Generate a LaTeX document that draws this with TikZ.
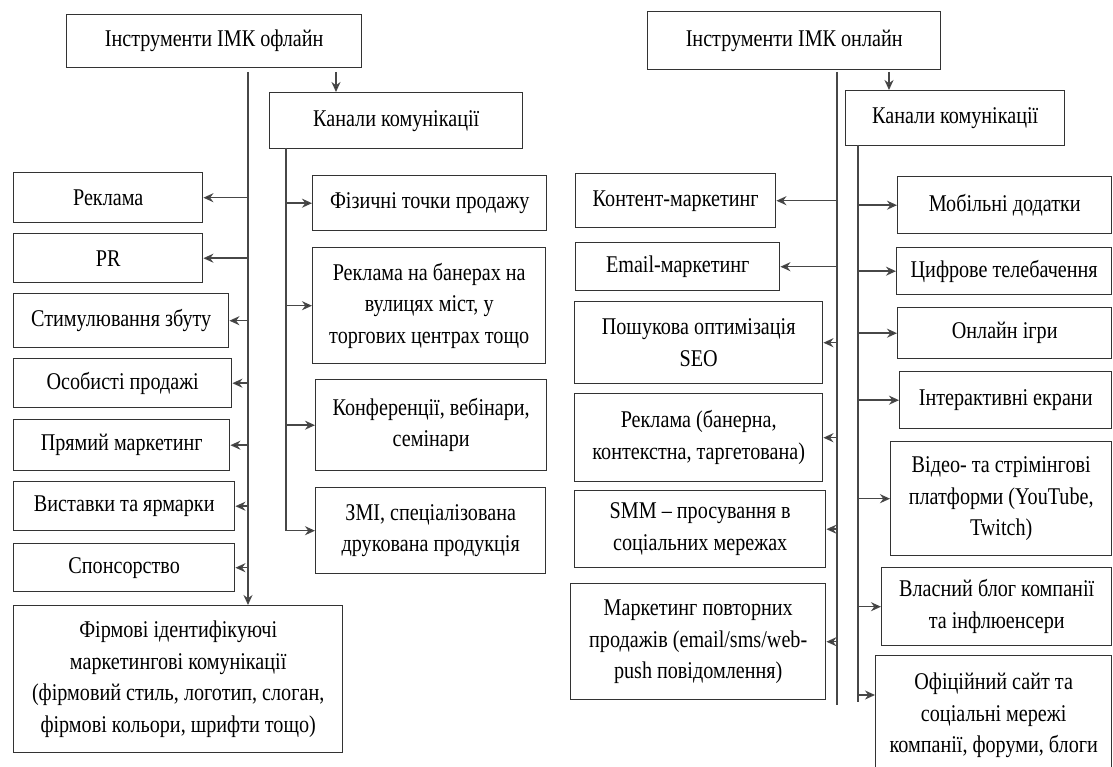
\documentclass[tikz,border=0pt]{standalone}
\usepackage{fontspec}
\setmainfont[FakeStretch = 0.84]{Liberation Serif}
\usetikzlibrary{arrows.meta}
\tikzstyle{toolbox} = [
    rectangle,
    anchor = north west,
    align = center,
    inner sep = 2pt,
    draw = black!80,
    line width = 1.4pt,
    fill = white,
    font = \fontsize{24}{31.5}\selectfont
]
\tikzstyle{trunk} = [line width = 1.5pt, draw = black!72]
\tikzstyle{branch} = [
    line width = 1.5pt,
    draw = black!72,
    arrows = {-Stealth[length = 10pt, width = 9pt, fill = black]}
]

\begin{document}
\begin{tikzpicture}[x = 1pt, y = -1pt]
    \useasboundingbox (0,0) rectangle (1113,767);

    % offline side
    \node (offline tools) [toolbox, minimum width = 295pt, minimum height = 53pt]
        at (66,14) {Інструменти ІМК офлайн};

    \node (offline channels) [toolbox, minimum width = 253pt, minimum height = 56pt]
        at (269,92) {Канали комунікації};

    \coordinate (offline split) at (336,72);
    \coordinate (offline trunk) at (248,72);
    \coordinate (offline channel trunk) at (286,148);

    \draw [branch] (offline split) -- (offline split |- offline channels.north);

    \node (advertising) [toolbox, minimum width = 189pt, minimum height = 50pt]
        at (13,172) {Реклама};
    \node (pr) [toolbox, minimum width = 189pt, minimum height = 49pt]
        at (13,233) {PR};
    \node (sales promotion) [toolbox, minimum width = 215pt, minimum height = 54pt]
        at (13,293) {Стимулювання збуту};
    \node (personal selling) [toolbox, minimum width = 218pt, minimum height = 49pt]
        at (13,358) {Особисті продажі};
    \node (direct marketing) [toolbox, minimum width = 216pt, minimum height = 51pt]
        at (13,419) {Прямий маркетинг};
    \node (exhibitions) [toolbox, minimum width = 221pt, minimum height = 49pt]
        at (13,481) {Виставки та ярмарки};
    \node (sponsorship) [toolbox, minimum width = 221pt, minimum height = 48pt]
        at (13,543) {Спонсорство};
    \node (corporate identity) [toolbox, minimum width = 329pt, minimum height = 147pt]
        at (13,605)
        {Фірмові ідентифікуючі\\маркетингові комунікації\\(фірмовий стиль, логотип, слоган,\\фірмові кольори, шрифти тощо)};

    \node (points of sale) [toolbox, minimum width = 234pt, minimum height = 55pt]
        at (312,175) {Фізичні точки продажу};
    \node (outdoor) [toolbox, minimum width = 233pt, minimum height = 116pt]
        at (312,247) {Реклама на банерах на\\вулицях міст, у\\торгових центрах тощо};
    \node (conferences) [toolbox, minimum width = 231pt, minimum height = 91pt]
        at (315,379) {Конференції, вебінари,\\семінари};
    \node (media) [toolbox, minimum width = 230pt, minimum height = 86pt]
        at (315,487) {ЗМІ, спеціалізована\\друкована продукція};

    \draw [branch] (offline trunk) -- (offline trunk |- corporate identity.north);
    \foreach \tool in {advertising, pr, sales promotion, personal selling,
        direct marketing, exhibitions, sponsorship}
        \draw [branch] (\tool.east -| offline trunk) -- (\tool.east);

    \draw [trunk] (offline channel trunk) -- (offline channel trunk |- media.west);
    \foreach \tool in {points of sale, outdoor, conferences, media}
        \draw [branch] (\tool.west -| offline channel trunk) -- (\tool.west);

    % online side
    \node (online tools) [toolbox, minimum width = 293pt, minimum height = 58pt]
        at (647,11) {Інструменти ІМК онлайн};

    \node (online channels) [toolbox, minimum width = 219pt, minimum height = 55pt]
        at (845,90) {Канали комунікації};

    \coordinate (online split) at (889,72);
    \coordinate (online trunk) at (837,72);
    \coordinate (online trunk end) at (837,705);
    \coordinate (online channel trunk) at (858,145);
    \coordinate (online channel end) at (858,702);
    \coordinate (official branch) at (858,695);

    \draw [branch] (online split) -- (online split |- online channels.north);

    \node (content marketing) [toolbox, minimum width = 200pt, minimum height = 54pt]
        at (575,173) {Контент-маркетинг};
    \node (email marketing) [toolbox, minimum width = 204pt, minimum height = 48pt]
        at (575,242) {Email-маркетинг};
    \node (seo) [toolbox, minimum width = 248pt, minimum height = 82pt]
        at (574,301) {Пошукова оптимізація\\SEO};
    \node (online ads) [toolbox, minimum width = 248pt, minimum height = 88pt]
        at (574,393) {Реклама (банерна,\\контекстна, таргетована)};
    \node (smm) [toolbox, minimum width = 251pt, minimum height = 77pt]
        at (574,490) {SMM – просування в\\соціальних мережах};
    \node (remarketing) [toolbox, minimum width = 255pt, minimum height = 116pt]
        at (570,583) {Маркетинг повторних\\продажів (email/sms/web-\\push повідомлення)};

    \node (mobile apps) [toolbox, minimum width = 214pt, minimum height = 57pt]
        at (897,176) {Мобільні додатки};
    \node (digital tv) [toolbox, minimum width = 215pt, minimum height = 47pt]
        at (896,247) {Цифрове телебачення};
    \node (online games) [toolbox, minimum width = 214pt, minimum height = 51pt]
        at (897,307) {Онлайн ігри};
    \node (interactive screens) [toolbox, minimum width = 212pt, minimum height = 57pt]
        at (899,371) {Інтерактивні екрани};
    \node (video platforms) [toolbox, minimum width = 221pt, minimum height = 114pt]
        at (890,441) {Відео- та стрімінгові\\платформи (YouTube,\\Twitch)};
    \node (company blog) [toolbox, minimum width = 230pt, minimum height = 78pt]
        at (881,567) {Власний блог компанії\\та інфлюенсери};
    \node (official site) [toolbox, minimum width = 236pt, minimum height = 120pt]
        at (875,655) {Офіційний сайт та\\соціальні мережі\\компанії, форуми, блоги};

    \draw [trunk] (online trunk) -- (online trunk end);
    \foreach \tool in {content marketing, email marketing, seo, online ads,
        smm, remarketing}
        \draw [branch] (\tool.east -| online trunk) -- (\tool.east);

    \draw [trunk] (online channel trunk) -- (online channel end);
    \foreach \tool in {mobile apps, digital tv, online games, interactive screens,
        video platforms, company blog}
        \draw [branch] (\tool.west -| online channel trunk) -- (\tool.west);
    \draw [branch] (official branch) -- (official branch -| official site.west);

\end{tikzpicture}
\end{document}
